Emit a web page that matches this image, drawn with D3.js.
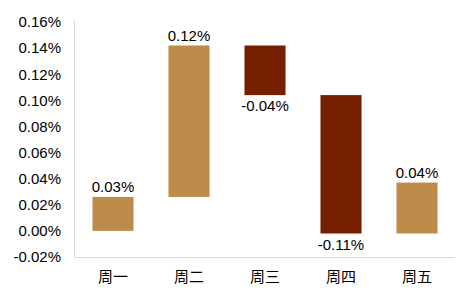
<!DOCTYPE html>
<html>
<head>
<meta charset="utf-8">
<script src="https://cdn.jsdelivr.net/npm/d3@7"></script>
<style>
  body { margin: 0; background: #fff; }
  text { font-family: "Liberation Sans", Arial, sans-serif; fill: #000; }
  .cat text { font-family: "Noto Sans CJK SC", sans-serif; }
</style>
</head>
<body>
<svg id="chart"></svg>
<script>
// weekday changes (%), waterfall
const days = ["周一", "周二", "周三", "周四", "周五"];
const changes = [0.026, 0.116, -0.038, -0.106, 0.039];
const yTicks = [-0.02, 0, 0.02, 0.04, 0.06, 0.08, 0.10, 0.12, 0.14, 0.16];

const width = 470, height = 304;
const margin = { top: 22, right: 15, bottom: 47, left: 75 };

const svg = d3.select("#chart").attr("width", width).attr("height", height);

// running totals -> start / end of each bar
let run = 0;
const bars = days.map((d, i) => {
    const start = run;
    run += changes[i];
    return { day: d, value: changes[i], start: start, end: run };
});

const x = d3.scaleBand()
    .domain(days)
    .range([margin.left, width - margin.right])
    .paddingInner(0.46)
    .paddingOuter(0.23);

const y = d3.scaleLinear()
    .domain([-0.02, 0.16])
    .range([height - margin.bottom, margin.top]);

const fmt = v => v.toFixed(2) + "%";

// y labels, no axis line from d3 (drawn by hand below)
const yAxis = svg.append("g")
    .attr("transform", `translate(${margin.left},0)`)
    .call(d3.axisLeft(y).tickValues(yTicks).tickFormat(fmt).tickSize(0).tickPadding(14));
yAxis.select(".domain").remove();
yAxis.selectAll("text").style("font-size", "15px");

const xAxis = svg.append("g")
    .attr("class", "cat")
    .attr("transform", `translate(0,${height - margin.bottom})`)
    .call(d3.axisBottom(x).tickSize(0).tickPadding(14));
xAxis.select(".domain").remove();
xAxis.selectAll("text").style("font-size", "15px");

// frame lines
svg.append("line")
    .attr("x1", margin.left - 0.5).attr("x2", margin.left - 0.5)
    .attr("y1", margin.top - 2).attr("y2", height - margin.bottom)
    .attr("stroke", "#d9d9d9");
svg.append("line")
    .attr("x1", margin.left - 1).attr("x2", width - margin.right)
    .attr("y1", height - margin.bottom + 0.5).attr("y2", height - margin.bottom + 0.5)
    .attr("stroke", "#d9d9d9");

svg.append("g").selectAll("rect")
    .data(bars)
    .join("rect")
    .attr("x", d => x(d.day))
    .attr("width", x.bandwidth())
    .attr("y", d => y(Math.max(d.start, d.end)))
    .attr("height", d => Math.abs(y(d.start) - y(d.end)))
    .attr("fill", d => d.value >= 0 ? "#be8c4a" : "#761e00");

svg.append("g").selectAll("text")
    .data(bars)
    .join("text")
    .attr("x", d => x(d.day) + x.bandwidth() / 2)
    .attr("y", d => d.value >= 0 ? y(d.end) - 5 : y(d.end) + 16)
    .attr("text-anchor", "middle")
    .style("font-size", "15px")
    .text(d => fmt(d.value));
</script>
</body>
</html>
